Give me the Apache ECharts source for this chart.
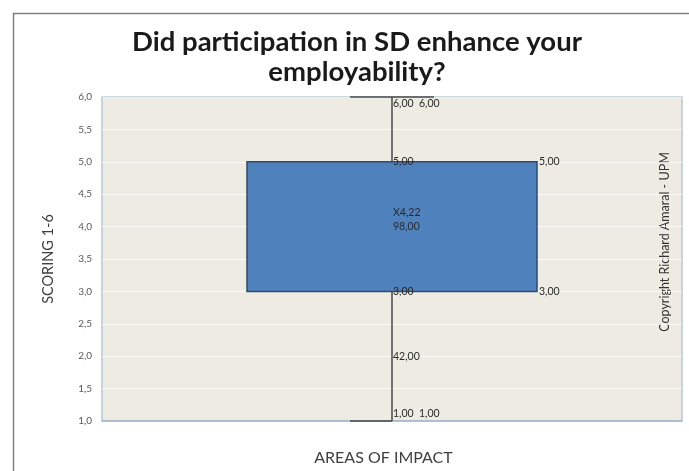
<!DOCTYPE html>
<html><head><meta charset="utf-8">
<script src="https://cdn.jsdelivr.net/npm/echarts@6/dist/echarts.min.js"></script>
<style>html,body{margin:0;padding:0;background:#fff}#c{width:689px;height:471px}</style>
</head><body><div id="c"></div>
<script>
// ---- data ----
const titleLines = ['Did participation in SD enhance your', 'employability?'];
const categories = [''];
const yTicks = [1.0, 1.5, 2.0, 2.5, 3.0, 3.5, 4.0, 4.5, 5.0, 5.5, 6.0];
// [min, q1, q3, max]
const boxValues = [[1.0, 3.0, 5.0, 6.0]];
const meanValue = 4.22;
// labels attached to values on the whisker line
const centerLabels = [
  { value: 6.0, text: '6,00  6,00' },
  { value: 5.0, text: '5,00' },
  { value: 4.22, text: 'X4,22' },
  { value: 4.0, text: '98,00' },
  { value: 3.0, text: '3,00' },
  { value: 2.0, text: '42,00' },
  { value: 1.0, text: '1,00  1,00' }
];
const rightLabels = [
  { value: 5.0, text: '5,00' },
  { value: 3.0, text: '3,00' }
];
const yName = 'SCORING 1-6';
const xName = 'AREAS OF IMPACT';
const copyright = 'Copyright Richard Amaral - UPM';

const chart = echarts.init(document.getElementById('c'), null, { renderer: 'canvas' });
const F = 'Lato, "Open Sans", sans-serif';

const option = {
  backgroundColor: '#ffffff',
  animation: false,
  title: {
    text: titleLines.join('\n'),
    left: 352, top: 22, textAlign: 'center',
    textStyle: { fontFamily: F, fontSize: 27.5, fontWeight: 'bold', color: '#1a1a1a', lineHeight: 30 }
  },
  grid: { left: 102, right: 7, top: 97, bottom: 48, show: true, backgroundColor: '#EEECE2', borderColor: '#B7C6D6', borderWidth: 1.5 },
  xAxis: {
    type: 'category', data: categories,
    name: xName, nameLocation: 'middle', nameGap: 29,
    nameTextStyle: { fontFamily: F, fontSize: 16, color: '#404040', padding: [0, 17, 0, 0] },
    axisLine: { show: true, lineStyle: { color: '#9FB3C8', width: 1.5 } },
    axisTick: { show: false }, axisLabel: { show: false }
  },
  yAxis: {
    type: 'value', min: 1, max: 6, interval: 0.5,
    name: yName, nameLocation: 'middle', nameGap: 46, nameRotate: 90,
    nameTextStyle: { fontFamily: F, fontSize: 14.5, color: '#404040' },
    axisLine: { show: false }, axisTick: { show: false },
    axisLabel: { fontFamily: F, fontSize: 10, color: '#595959', margin: 10,
      formatter: v => yTicks.includes(v) ? v.toFixed(1).replace('.', ',') : '' },
    splitLine: { show: true, lineStyle: { color: 'rgba(255,255,255,0.7)', width: 1 } }
  },
  series: [{
    type: 'custom',
    data: boxValues.map((b, i) => [i, b[0], b[1], b[2], b[3]]),
    renderItem: function (params, api) {
      const x = api.value(0);
      const pMin = api.coord([x, api.value(1)]);
      const pQ1 = api.coord([x, api.value(2)]);
      const pQ3 = api.coord([x, api.value(3)]);
      const pMax = api.coord([x, api.value(4)]);
      const band = api.size([1, 0])[0];
      const hw = band * 0.25;
      const cx = pMin[0];
      const children = [];
      children.push({ type: 'line', shape: { x1: cx, y1: pMax[1], x2: cx, y2: pMin[1] }, style: { stroke: '#4a4a4a', lineWidth: 1.5 } });
      children.push({ type: 'line', shape: { x1: cx - 42, y1: pMax[1], x2: cx + 42, y2: pMax[1] }, style: { stroke: '#4a4a4a', lineWidth: 1.5 } });
      children.push({ type: 'line', shape: { x1: cx - 42, y1: pMin[1], x2: cx, y2: pMin[1] }, style: { stroke: '#4a4a4a', lineWidth: 1.5 } });
      children.push({ type: 'rect', shape: { x: cx - hw, y: pQ3[1], width: hw * 2, height: pQ1[1] - pQ3[1] },
        style: { fill: '#4F81BD', stroke: '#2E4A6E', lineWidth: 1.5 } });
      centerLabels.forEach(l => {
        const p = api.coord([x, l.value]);
        children.push({ type: 'text', x: cx + 1, y: p[1] + (l.value === 6 ? 7 : l.value === 1 ? -7 : 0),
          style: { text: l.text, fontFamily: F, fontSize: 10.5, fill: '#2a2a2a', textVerticalAlign: 'middle', textAlign: 'left' } });
      });
      rightLabels.forEach(l => {
        const p = api.coord([x, l.value]);
        children.push({ type: 'text', x: cx + hw + 2, y: p[1],
          style: { text: l.text, fontFamily: F, fontSize: 10.5, fill: '#2a2a2a', textVerticalAlign: 'middle', textAlign: 'left' } });
      });
      return { type: 'group', children };
    },
    z: 5
  }],
  graphic: [
    { type: 'rect', left: 11, top: 11, shape: { width: 690, height: 470 }, style: { fill: 'none', stroke: '#7f7f7f', lineWidth: 1.5 }, silent: true, z: -1 },
    { type: 'text', x: 665, y: 242, rotation: Math.PI / 2,
      style: { text: copyright, fontFamily: F, fontSize: 12.5, fill: '#333', textAlign: 'center', textVerticalAlign: 'middle' } }
  ]
};
chart.setOption(option);
</script></body></html>
